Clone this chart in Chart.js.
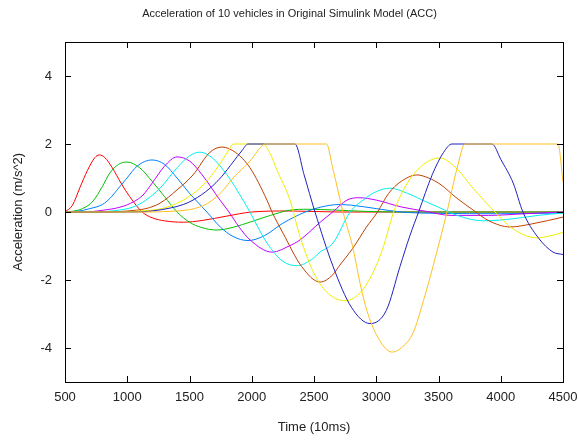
<!DOCTYPE html>
<html>
<head>
<meta charset="utf-8">
<script src="https://cdn.jsdelivr.net/npm/chart.js@4.4.0/dist/chart.umd.min.js"></script>
<style>
    html, body { margin: 0; padding: 0; background: #fff; }
    canvas { display: block; }
</style>
</head>
<body>
<canvas id="accChart" width="579" height="441"></canvas>
<script>
// Werte (Zeit in 10ms, Beschleunigung in m/s^2)
const xTickValues = [500, 1000, 1500, 2000, 2500, 3000, 3500, 4000, 4500];
const yTickValues = [-4, -2, 0, 2, 4];

const v1Time = [500, 560, 620, 680, 740, 775, 820, 880, 950, 1020, 1120, 1200, 1300, 1450, 1600, 1800, 2000, 2300, 2700, 3200, 4500];
const v1Acc  = [0, 0.2, 0.72, 1.22, 1.6, 1.68, 1.6, 1.3, 0.85, 0.45, 0, -0.17, -0.26, -0.3, -0.25, -0.12, 0, 0.03, 0, 0, 0];

const v2Time = [500, 560, 640, 725, 800, 861, 930, 998, 1100, 1200, 1300, 1400, 1500, 1600, 1720, 1850, 2000, 2150, 2300, 2450, 2650, 2900, 3200, 4500];
const v2Acc  = [0, 0.02, 0.1, 0.32, 0.75, 1.15, 1.4, 1.47, 1.3, 0.9, 0.45, 0, -0.3, -0.46, -0.53, -0.45, -0.28, -0.1, 0.05, 0.08, 0.06, 0.02, 0, 0];

const v3Time = [500, 600, 700, 800, 861, 930, 998, 1080, 1199, 1300, 1400, 1500, 1640, 1750, 1850, 1970, 2100, 2250, 2430, 2550, 2700, 2800, 3000, 3200, 3500, 4000, 4500];
const v3Acc  = [0, 0.02, 0.1, 0.22, 0.4, 0.7, 1.0, 1.35, 1.53, 1.4, 1.0, 0.55, 0, -0.45, -0.72, -0.84, -0.7, -0.33, 0, 0.14, 0.22, 0.2, 0.1, 0, -0.04, -0.05, -0.03];

const v4Time = [500, 650, 800, 950, 1050, 1127, 1200, 1300, 1400, 1500, 1600, 1745, 1817, 1900, 1986, 2163, 2300, 2388, 2550, 2650, 2765, 2860, 3000, 3200, 3400, 3600, 3900, 4200, 4500];
const v4Acc  = [0, 0, 0.05, 0.15, 0.3, 0.5, 0.85, 1.35, 1.62, 1.5, 1.1, 0.35, 0, -0.45, -0.82, -1.18, -1.0, -0.82, -0.3, 0, 0.35, 0.42, 0.35, 0.15, 0.02, -0.1, -0.1, -0.05, 0];

const v5Time = [500, 750, 900, 1050, 1150, 1263, 1400, 1500, 1584, 1680, 1800, 1930, 1985, 2122, 2250, 2363, 2480, 2548, 2653, 2790, 2894, 3000, 3110, 3250, 3400, 3512, 3650, 3858, 4050, 4300, 4500];
const v5Acc  = [0, 0, 0.04, 0.15, 0.35, 0.7, 1.3, 1.65, 1.76, 1.6, 1.1, 0.35, 0, -0.91, -1.45, -1.58, -1.4, -1.18, -0.91, 0, 0.35, 0.6, 0.7, 0.55, 0.3, 0.12, -0.1, -0.26, -0.22, -0.1, -0.03];

const v6Time = [500, 850, 1000, 1150, 1263, 1400, 1528, 1665, 1761, 1870, 1986, 2122, 2163, 2251, 2400, 2548, 2650, 2700, 2813, 2920, 3010, 3100, 3200, 3327, 3420, 3512, 3650, 3777, 3900, 4074, 4250, 4500];
const v6Acc  = [0, 0, 0.03, 0.1, 0.26, 0.65, 1.09, 1.76, 1.91, 1.75, 1.3, 0.35, 0, -0.62, -1.6, -2.06, -1.85, -1.6, -1.06, -0.45, 0, 0.55, 0.9, 1.09, 1.0, 0.82, 0.4, 0.06, -0.25, -0.44, -0.35, -0.15];

const v7Time = [500, 950, 1100, 1250, 1343, 1450, 1550, 1650, 1750, 1820, 1850, 2090, 2150, 2200, 2307, 2388, 2500, 2600, 2749, 2850, 2950, 3050, 3140, 3250, 3380, 3512, 3640, 3777, 3954, 4100, 4291, 4420, 4500];
const v7Acc  = [0, 0, 0.03, 0.08, 0.17, 0.35, 0.6, 0.95, 1.45, 1.85, 2, 2, 1.7, 1.25, 0.35, -0.73, -1.8, -2.35, -2.61, -2.45, -1.95, -1.1, 0, 0.85, 1.4, 1.59, 1.3, 0.7, 0, -0.5, -0.76, -0.68, -0.6];

const v8Time = [500, 1050, 1200, 1350, 1450, 1528, 1665, 1760, 1850, 1920, 1970, 2347, 2420, 2508, 2653, 2800, 2950, 3080, 3191, 3270, 3340, 3450, 3540, 3608, 3930, 4000, 4100, 4178, 4300, 4420, 4500];
const v8Acc  = [0, 0, 0.03, 0.12, 0.22, 0.35, 0.7, 1.05, 1.47, 1.8, 2, 2, 1.1, 0, -1.6, -2.8, -3.28, -2.9, -1.6, -0.7, 0, 1.1, 1.75, 2, 2, 1.55, 0.85, 0, -0.75, -1.18, -1.25];

const v9Time = [500, 1150, 1350, 1500, 1584, 1665, 1760, 1850, 1986, 2060, 2106, 2600, 2650, 2733, 2813, 2870, 2925, 3000, 3127, 3200, 3295, 3380, 3456, 3568, 3650, 3713, 4460, 4500];
const v9Acc  = [0, 0, 0.02, 0.07, 0.15, 0.3, 0.6, 1.0, 1.5, 1.85, 2, 2, 1.3, 0, -1.06, -2.1, -2.9, -3.6, -4.12, -4.0, -3.56, -2.6, -1.6, 0, 1.3, 2, 2, 0.88];

const vehicleTimes = [v1Time, v2Time, v3Time, v4Time, v5Time, v6Time, v7Time, v8Time, v9Time];
const vehicleAccs  = [v1Acc, v2Acc, v3Acc, v4Acc, v5Acc, v6Acc, v7Acc, v8Acc, v9Acc];
const lineColors = ['#ff0000', '#00c000', '#0080ff', '#c000ff', '#00eeee', '#c04000', '#eeee00', '#2020c0', '#ffc020'];

const fontFamily = "'Liberation Sans', Arial, sans-serif";
const axisFont = { family: fontFamily, size: 13 };

// Rahmen und nach innen zeigende Ticks (auf allen vier Seiten)
const frameTicks = {
    id: 'frameTicks',
    afterDatasetsDraw(chart) {
        const { ctx, chartArea: a, scales: { x, y } } = chart;
        const len = 6;
        ctx.save();
        ctx.strokeStyle = '#000';
        ctx.lineWidth = 1;
        ctx.beginPath();
        x.ticks.forEach(t => {
            const px = Math.round(x.getPixelForValue(t.value)) + 0.5;
            ctx.moveTo(px, a.bottom); ctx.lineTo(px, a.bottom - len);
            ctx.moveTo(px, a.top); ctx.lineTo(px, a.top + len);
        });
        y.ticks.forEach(t => {
            const py = Math.round(y.getPixelForValue(t.value)) + 0.5;
            ctx.moveTo(a.left, py); ctx.lineTo(a.left + len, py);
            ctx.moveTo(a.right, py); ctx.lineTo(a.right - len, py);
        });
        ctx.stroke();
        ctx.strokeRect(Math.round(a.left) + 0.5, Math.round(a.top) + 0.5,
            Math.round(a.right - a.left), Math.round(a.bottom - a.top));
        ctx.restore();
    }
};

const datasets = vehicleTimes.map((times, i) => ({
    label: 'Vehicle ' + (i + 1),
    data: times.map((t, j) => ({ x: t, y: vehicleAccs[i][j] })),
    borderColor: lineColors[i],
    borderWidth: 1,
    pointRadius: 0,
    fill: false,
    cubicInterpolationMode: 'monotone',
    order: vehicleTimes.length - i
}));

const ctx = document.getElementById('accChart').getContext('2d');
new Chart(ctx, {
    type: 'line',
    data: { datasets },
    options: {
        responsive: false,
        animation: false,
        devicePixelRatio: 1,
        layout: { padding: 0 },
        plugins: {
            legend: { display: false },
            tooltip: { enabled: false },
            title: {
                display: true,
                text: 'Acceleration of 10 vehicles in Original Simulink Model (ACC)',
                color: '#222',
                font: { family: fontFamily, size: 11, weight: 'normal' },
                padding: { top: 7.4, bottom: 21.4 }
            }
        },
        scales: {
            x: {
                type: 'linear',
                min: 500,
                max: 4500,
                afterBuildTicks: scale => { scale.ticks = xTickValues.map(v => ({ value: v })); },
                afterFit: scale => {
                    scale.height = 59;
                    scale.paddingLeft = 0;
                    scale.paddingRight = 16;
                },
                grid: { display: false, drawTicks: false },
                border: { display: false },
                ticks: { color: '#222', font: axisFont, padding: 8, maxRotation: 0, callback: v => String(v) },
                title: { display: true, text: 'Time (10ms)', color: '#222', font: axisFont, padding: { top: 0, bottom: 6.2 } }
            },
            y: {
                min: -5,
                max: 5,
                afterBuildTicks: scale => { scale.ticks = yTickValues.map(v => ({ value: v })); },
                afterFit: scale => { scale.width = 65; },
                grid: { display: false, drawTicks: false },
                border: { display: false },
                ticks: { color: '#222', font: axisFont, padding: 13, callback: v => String(v) },
                title: { display: true, text: 'Acceleration (m/s^2)', color: '#222', font: axisFont, padding: { top: 10.2, bottom: 0 } }
            }
        }
    },
    plugins: [frameTicks]
});
</script>
</body>
</html>
